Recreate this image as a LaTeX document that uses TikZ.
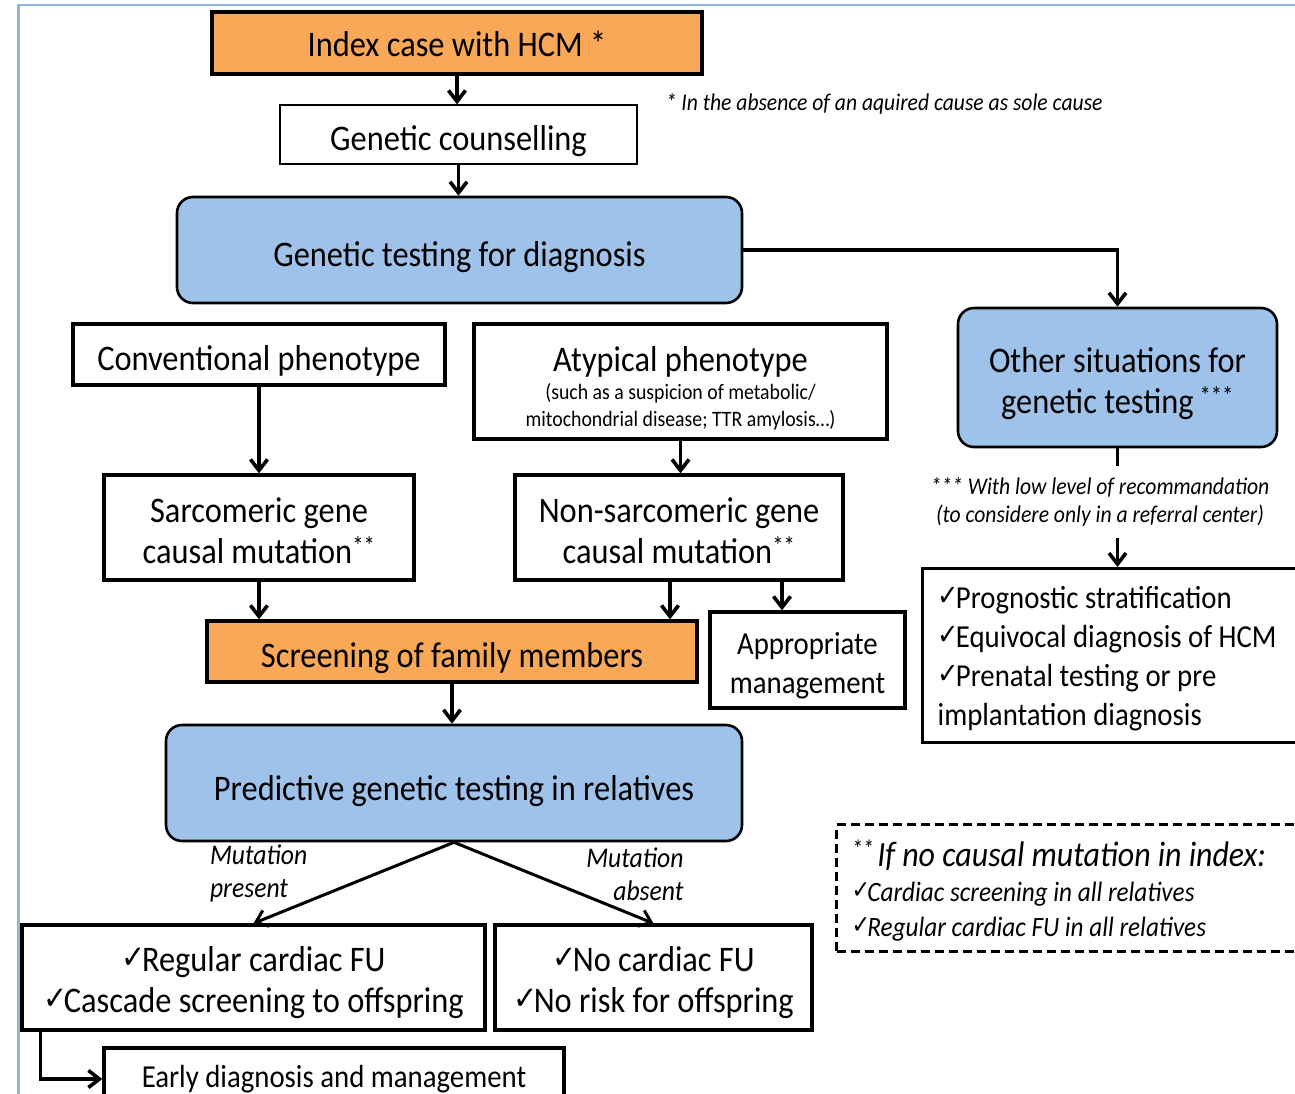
\documentclass[tikz,border=0pt]{standalone}
\usepackage{fontspec}
\usepackage{graphicx}
\setmainfont{Carlito}[FakeStretch=0.9]
\newfontfamily\chkfont{DejaVu Sans}
\usetikzlibrary{arrows.meta,positioning}
\definecolor{HcmOrange}{HTML}{F9A857}
\definecolor{HcmBlue}{HTML}{9EC2E9}
\definecolor{FrameBlue}{HTML}{94B3E3}
\newcommand{\chk}{\raisebox{0.2ex}{\scalebox{0.8}[0.9]{\chkfont ✓}}\hspace{-0.1em}}
\newcommand{\subfont}{\fontsize{22}{27}\selectfont}
\newcommand{\dn}[1]{\rule{0pt}{\dimexpr0.72em+#1+#1\relax}}

\begin{document}
\begin{tikzpicture}[
  x=1pt, y=-1pt,
  font=\fontsize{36}{41}\selectfont,
  box/.style={draw, line width=3.3pt, fill=white, align=center, inner sep=0pt},
  thinbox/.style={box, line width=1.2pt},
  orangebox/.style={box, fill=HcmOrange},
  bluebox/.style={box, line width=2.6pt, fill=HcmBlue, rounded corners=16pt},
  listbox/.style={box, align=flush left, inner xsep=15pt},
  lower/.style={execute at begin node={\dn{#1}}},
  note/.style={font=\fontsize{24}{28}\selectfont\itshape, align=center, inner sep=10pt},
  mutlabel/.style={font=\fontsize{28.5}{33}\selectfont\itshape, inner sep=2pt},
  line width=3.6pt,
  -{Straight Barb[length=11pt,width=17pt]}
]
\useasboundingbox (0,0) rectangle (1295,1093);
\clip (0,0) rectangle (1295,1093);

% frame
\draw[-, FrameBlue, line width=2.5pt] (18.5,1100) -- (18.5,5) -- (1300,5);

% top of the flow
\node[orangebox, lower=1pt, minimum width=490pt, minimum height=62pt] (index) at (457,43) {Index case with HCM *};
\node[thinbox, lower=6pt, minimum width=357pt, minimum height=59pt] (counsel) at (458.5,134.5) {Genetic counselling};
\node[bluebox, lower=7pt, minimum width=565pt, minimum height=106pt] (gentest) at (459.5,250) {Genetic testing for diagnosis};
\node[note, anchor=west, inner sep=2pt] (asterisk) at (662,104) {* In the absence of an aquired cause as sole cause};

% other situations
\node[bluebox, minimum width=319pt, minimum height=139pt] (other) at (1117.5,377.5) {\dn{6pt}Other situations for\\genetic testing\,\textsuperscript{***}};
\node[note] (lowrec) at (1100,502) {*** With low level of recommandation\\(to considere only in a referral center)};
\node[listbox, lower=2.5pt, anchor=north west, text width=370pt, minimum height=174pt, font=\fontsize{32}{39}\selectfont] (purpose) at (921,567)
  {\chk Prognostic stratification\\\chk Equivocal diagnosis of HCM\\\chk Prenatal testing or pre\\implantation diagnosis};

% phenotypes
\node[box, lower=6pt, minimum width=372pt, minimum height=61pt] (conv) at (259,354.5) {Conventional phenotype};
\node[box, minimum width=413pt, minimum height=115pt] (atyp) at (680.5,381.5)
  {\dn{6pt}Atypical phenotype\\[-13pt]{\subfont (such as a suspicion of metabolic/}\\[-14pt]{\subfont mitochondrial disease; TTR amylosis…)}};
\node[box, minimum width=310pt, minimum height=105pt] (sarc) at (259,527.5) {\dn{3pt}Sarcomeric gene\\causal mutation\textsuperscript{**}};
\node[box, minimum width=328pt, minimum height=105pt] (nonsarc) at (679,527.5) {\dn{3pt}Non-sarcomeric gene\\causal mutation\textsuperscript{**}};

% family
\node[orangebox, lower=6pt, minimum width=490pt, minimum height=61pt] (screen) at (452,651.5) {Screening of family members};
\node[box, minimum width=195pt, minimum height=96pt, font=\fontsize{32}{39}\selectfont] (approp) at (807.5,660) {\dn{5pt}Appropriate\\management};
\node[bluebox, lower=7.5pt, minimum width=576pt, minimum height=116pt] (pred) at (454,783) {Predictive genetic testing in relatives};
\node[box, minimum width=463pt, minimum height=105pt] (regular) at (253.5,977.5) {\dn{5pt}\chk Regular cardiac FU\\\chk Cascade screening to offspring};
\node[box, minimum width=317pt, minimum height=105pt] (nocard) at (653.5,977.5) {\dn{5pt}\chk No cardiac FU\\\chk No risk for offspring};
\node[box, minimum width=460pt, minimum height=62pt, font=\fontsize{32}{39}\selectfont] (early) at (334,1079) {Early diagnosis and management};

% no causal mutation
\node[listbox, dashed, dash pattern=on 9pt off 5pt, line width=3pt, anchor=north west, text width=450pt, minimum height=127pt,
  font=\fontsize{28}{35}\selectfont\itshape] (nocausal) at (835,823)
  {{\fontsize{35.5}{41}\selectfont\dn{3pt}\textsuperscript{**}\hspace{3pt}If no causal mutation in index:}\\\chk Cardiac screening in all relatives\\\chk Regular cardiac FU in all relatives};

% connectors
\draw (index.south) -- (index.south |- counsel.north);
\draw (counsel.south) -- (counsel.south |- gentest.north);
\draw (gentest.east) -| (other.north);
\draw[-] (other.south) -- (other.south |- lowrec.north);
\draw (other.south |- lowrec.south) -- (other.south |- purpose.north);
\draw (conv.south) -- (conv.south |- sarc.north);
\draw (atyp.south) -- (atyp.south |- nonsarc.north);
\draw (sarc.south) -- (sarc.south |- screen.north);
\draw ([xshift=-9pt]nonsarc.south) -- ([xshift=-9pt]nonsarc.south |- screen.north);
\draw ([xshift=103pt]nonsarc.south) -- ([xshift=103pt]nonsarc.south |- approp.north);
\draw (screen.south) -- (screen.south |- pred.north);
\draw[line width=3pt] (pred.south) -- node[mutlabel, align=left, anchor=east, xshift=-43pt, yshift=9pt] {Mutation\\present} (regular.north);
\draw[line width=3pt] (pred.south) -- node[mutlabel, align=right, anchor=west, xshift=29pt, yshift=9pt] {Mutation\\absent} (nocard.north);
\draw ([xshift=20pt]regular.south west) |- (early.west);

\end{tikzpicture}
\end{document}
